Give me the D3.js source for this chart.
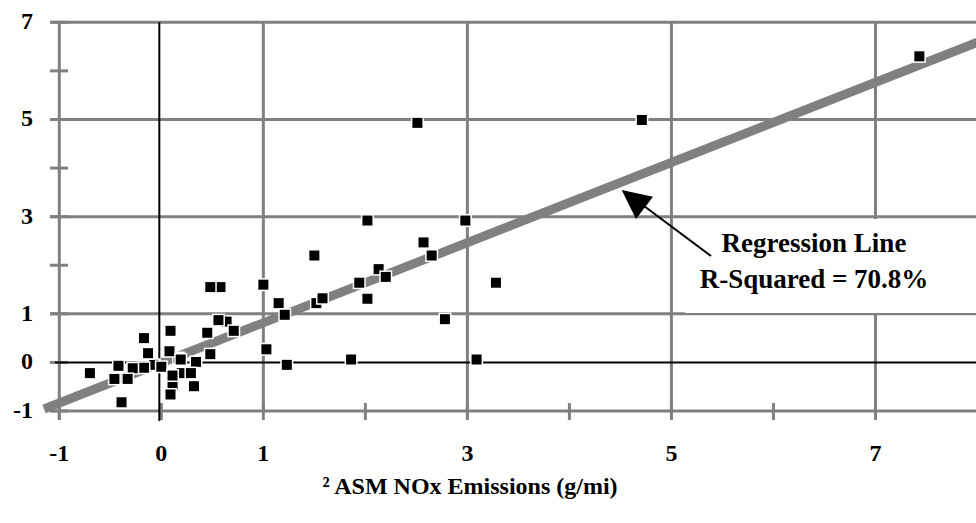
<!DOCTYPE html>
<html><head><meta charset="utf-8">
<script src="https://cdn.jsdelivr.net/npm/d3@7"></script>
<style>
html,body{margin:0;padding:0;background:#fff;}
svg text{font-family:"Liberation Serif","Times New Roman",serif;font-weight:bold;fill:#000;}
</style></head>
<body><svg id="chart" width="976" height="523"></svg>
<script>
// ---- data ----
const xTickLabels = [-1, 0, 1, 3, 5, 7];
const yTickLabels = [7, 5, 3, 1, 0, -1];
const xGridValues = [1, 3, 5, 7];
const yGridValues = [7, 5, 3, 1];
const xTickMarks = [-1, 0, 1, 2, 3, 4, 5, 6, 7];
const yTickMarks = [7, 6, 5, 4, 3, 2, 1, 0, -1];
const xValues = [0.58, 1.52, 1.15, 0.64, 0.20, 0.11, -0.07, 0.17,
  7.43, 4.71, 2.51, 2.02, 2.98, 2.57, 2.65, 1.50, 2.13, 2.20, 1.94, 3.28, 1.00, 0.48,
  2.02, 1.58, 1.21, 2.78, 0.56, 0.71, 0.45, 0.09, -0.17, 0.08, -0.13, 0.48, 1.03,
  1.86, 3.09, 1.23, 0.19, 0.34, 0.00, -0.17, -0.28, -0.42, -0.70, -0.46, -0.33,
  -0.39, 0.11, 0.29, 0.32, 0.09];
const yValues = [1.55, 1.22, 1.22, 0.84, -0.22, -0.47, -0.05, 0.09,
  6.30, 4.99, 4.93, 2.92, 2.92, 2.47, 2.20, 2.20, 1.92, 1.76, 1.64, 1.64, 1.60, 1.55,
  1.31, 1.32, 0.98, 0.89, 0.87, 0.65, 0.61, 0.65, 0.50, 0.23, 0.19, 0.17, 0.27,
  0.06, 0.06, -0.05, 0.06, 0.01, -0.09, -0.11, -0.12, -0.07, -0.22, -0.34, -0.34,
  -0.82, -0.27, -0.22, -0.49, -0.66];
const regression = {slope: 0.825, intercept: -0.01, xStart: -1.15, xEnd: 8};
const annotationLines = ["Regression Line", "R-Squared = 70.8%"];
const xTitle = "\u00B2 ASM NOx Emissions (g/mi)";

// ---- chart ----
const svg = d3.select("#chart");
const x = d3.scaleLinear().domain([-1, 8]).range([59.3, 977.5]);
const y = d3.scaleLinear().domain([-1, 7]).range([411, 22.3]);
const gray = "#808080";
const xL = x(-1), xR = 976, yT = y(7), yB = y(-1);

// horizontal gridlines
svg.append("g").selectAll("line").data(yGridValues).join("line")
  .attr("x1", 50).attr("x2", xR).attr("y1", d => y(d)).attr("y2", d => y(d))
  .attr("stroke", gray).attr("stroke-width", 3);
// vertical gridlines
svg.append("g").selectAll("line").data(xGridValues).join("line")
  .attr("x1", d => x(d)).attr("x2", d => x(d)).attr("y1", yT).attr("y2", yB)
  .attr("stroke", gray).attr("stroke-width", 3);
// left axis
svg.append("line").attr("x1", xL).attr("x2", xL).attr("y1", yT).attr("y2", yB + 9)
  .attr("stroke", gray).attr("stroke-width", 3);
// bottom axis
svg.append("line").attr("x1", 50).attr("x2", xR).attr("y1", yB).attr("y2", yB)
  .attr("stroke", gray).attr("stroke-width", 3);
// y tick marks
svg.append("g").selectAll("line").data(yTickMarks).join("line")
  .attr("x1", 50).attr("x2", 68).attr("y1", d => y(d)).attr("y2", d => y(d))
  .attr("stroke", gray).attr("stroke-width", 3);
// x tick marks
svg.append("g").selectAll("line").data(xTickMarks).join("line")
  .attr("x1", d => x(d)).attr("x2", d => x(d)).attr("y1", yB - 8).attr("y2", yB + 9)
  .attr("stroke", gray).attr("stroke-width", 3);
// zero lines
svg.append("line").attr("x1", 55).attr("x2", xR).attr("y1", y(0)).attr("y2", y(0))
  .attr("stroke", "#000").attr("stroke-width", 2);
svg.append("line").attr("x1", x(0) - 2).attr("x2", x(0) - 2).attr("y1", yT).attr("y2", yB + 10)
  .attr("stroke", "#000").attr("stroke-width", 2);

// regression line
svg.append("line")
  .attr("x1", x(regression.xStart)).attr("y1", y(regression.slope * regression.xStart + regression.intercept))
  .attr("x2", x(regression.xEnd)).attr("y2", y(regression.slope * regression.xEnd + regression.intercept))
  .attr("stroke", gray).attr("stroke-width", 9);

// points
const pts = xValues.map((v, i) => ({x: v, y: yValues[i]}));
const s = 11.5;
svg.append("g").selectAll("rect").data(pts).join("rect")
  .attr("x", d => x(d.x) - s / 2).attr("y", d => y(d.y) - s / 2)
  .attr("width", s).attr("height", s)
  .attr("fill", "#000").attr("stroke", "#fff").attr("stroke-width", 1.5);

// y tick labels
svg.append("g").selectAll("text").data(yTickLabels).join("text")
  .attr("x", 33).attr("y", d => y(d) + 7).attr("text-anchor", "end")
  .style("font-size", "24px").text(d => d);
// x tick labels
svg.append("g").selectAll("text").data(xTickLabels).join("text")
  .attr("x", d => x(d)).attr("y", 461).attr("text-anchor", "middle")
  .style("font-size", "24px").text(d => d);
// x title
svg.append("text").attr("x", 470).attr("y", 494).attr("text-anchor", "middle")
  .style("font-size", "24px").text(xTitle);

// annotation box
svg.append("rect").attr("x", 685).attr("y", 219).attr("width", 291).attr("height", 94).attr("fill", "#fff");
svg.append("g").selectAll("text").data(annotationLines).join("text")
  .attr("x", 814).attr("y", (d, i) => 252 + i * 36).attr("text-anchor", "middle")
  .style("font-size", "27px").text(d => d);
// arrow
svg.append("line").attr("x1", 711).attr("y1", 256).attr("x2", 640).attr("y2", 203)
  .attr("stroke", "#000").attr("stroke-width", 2);
svg.append("path").attr("d", "M621.7,190 L653,196.7 L636,219 Z").attr("fill", "#000");
</script></body></html>
